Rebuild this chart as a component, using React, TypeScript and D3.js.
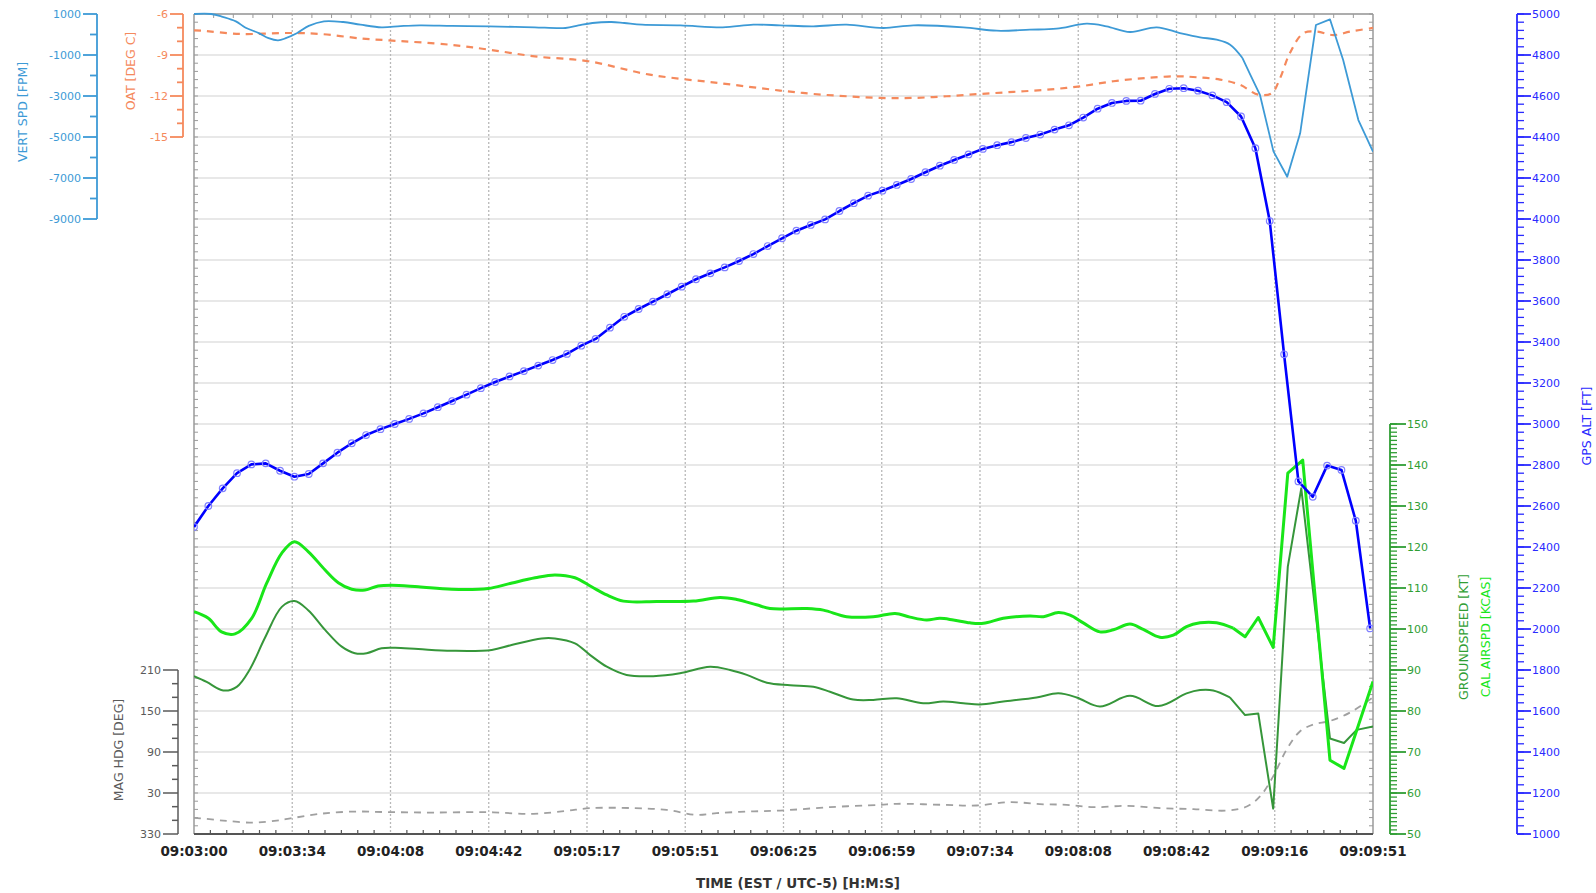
import React from 'react';
import * as d3 from 'd3';

// ---------- DATA ----------
// time in seconds after 09:03:00
const timeDomain: [number, number] = [0, 411];
const timeTickLabels = [
  '09:03:00', '09:03:34', '09:04:08', '09:04:42', '09:05:17', '09:05:51', '09:06:25',
  '09:06:59', '09:07:34', '09:08:08', '09:08:42', '09:09:16', '09:09:51',
];

// VERT SPD [FPM]
const vertSpd: [number, number][] = [
  [0, 1000], [6, 1000], [10, 860], [14.6, 640], [18, 330], [22.6, 70], [26, -180], [29.3, -283],
  [32, -180], [36, 73], [40, 420], [45.3, 644], [52, 610], [58, 480], [65.4, 350], [72, 410],
  [78.7, 449], [90, 420], [102.8, 400], [112, 370], [118.8, 350], [129.5, 317], [134, 440],
  [138.9, 561], [145.5, 610], [150, 560], [156.2, 478], [169.6, 449], [184.3, 350], [195, 478],
  [204.3, 449], [215.9, 400], [227.5, 478], [240.3, 317], [250.8, 449], [268.2, 350], [279.8, 185],
  [291.4, 234], [300.7, 283], [311.2, 527], [318.1, 400], [326.3, 122], [335.6, 350], [343.7, 73],
  [350.7, -137], [356.5, -254], [361.2, -498], [365.5, -1150], [368, -1900], [371.6, -2950],
  [376.3, -5700], [381.1, -6940], [385.6, -4820], [391.1, 463], [396, 741], [400.6, -1244],
  [405.9, -4171], [411, -5717],
];

// OAT [DEG C]
const oat: [number, number][] = [
  [0, -7.2], [2.6, -7.22], [16, -7.46], [33.3, -7.39], [44, -7.46], [58.7, -7.8], [68, -7.93],
  [89.4, -8.25], [102.8, -8.61], [118.8, -9.1], [137.5, -9.46], [158.9, -10.44], [182.9, -11.05],
  [204.3, -11.6], [215.9, -11.85], [227.5, -12.02], [239.1, -12.14], [250.8, -12.14],
  [262.4, -12.02], [274, -11.85], [285.6, -11.7], [297.2, -11.54], [308.9, -11.29], [320.5, -10.92],
  [332.1, -10.68], [342.6, -10.56], [349.5, -10.63], [357.7, -10.8], [364.6, -11.18], [371, -11.9],
  [375.7, -11.8], [378.6, -10.7], [382, -8.87], [386.7, -7.41], [391.4, -7.29], [397.2, -7.54],
  [403, -7.29], [411, -7.02],
];

// GPS ALT [FT], one sample every 5 s from 09:03:00
const gpsSampleStep = 5;
const gpsAlt = [
  2498, 2600, 2686, 2760, 2803, 2808, 2772, 2743, 2756, 2808, 2860, 2906, 2946, 2975, 3000, 3025,
  3052, 3082, 3112, 3143, 3175, 3205, 3232, 3258, 3285, 3312, 3342, 3382, 3415, 3470, 3523, 3561,
  3597, 3633, 3670, 3706, 3735, 3764, 3795, 3829, 3868, 3906, 3943, 3971, 3998, 4039, 4077, 4114,
  4138, 4166, 4195, 4228, 4260, 4288, 4315, 4342, 4360, 4375, 4395, 4412, 4436, 4457, 4495, 4538,
  4566, 4576, 4577, 4610, 4635, 4638, 4626, 4603, 4570, 4500, 4345, 3990, 3340, 2720, 2645, 2797,
  2776, 2528, 2003,
];

// CAL AIRSPD [KCAS]
const calAirspd: [number, number][] = [
  [0, 104.2], [5, 102.6], [9.6, 99.3], [14.3, 98.8], [20.1, 102.6], [25.3, 111.1], [30.6, 118.5],
  [35, 121.3], [39.8, 118.9], [45.7, 114.4], [50.3, 111.3], [55, 109.7], [59.6, 109.5], [64.2, 110.5],
  [68.9, 110.7], [78.2, 110.3], [89.8, 109.7], [102.6, 109.9], [109.6, 111], [118.9, 112.5],
  [125.8, 113.2], [132.8, 112.5], [138.6, 110.3], [143.9, 108.3], [149.7, 106.8], [161.3, 106.7],
  [174.1, 106.8], [183.4, 107.7], [189.2, 107.2], [196.1, 105.9], [200.8, 105], [213.6, 105],
  [219.4, 104.6], [227.5, 103], [236.8, 103], [244.4, 103.8], [249.6, 102.9], [255.4, 102.2],
  [260, 102.6], [264.7, 102.2], [270.5, 101.5], [275.2, 101.4], [282.1, 102.6], [291.4, 103.2],
  [296.1, 103], [301.3, 104], [305.4, 103.4], [310, 101.5], [315.8, 99.3], [320.5, 99.8],
  [326.3, 101.2], [330.9, 99.9], [336.7, 98], [341.4, 98.5], [346, 100.6], [350.7, 101.5],
  [356.5, 101.5], [362.3, 100.2], [366.4, 98.1], [371, 102.8], [376.2, 95.5], [381.3, 138],
  [386.5, 141.2], [396, 68], [400.9, 66], [411, 87.2],
];

// GROUNDSPEED [KT]
const groundspeed: [number, number][] = [
  [0, 88.5], [4.4, 87.1], [10.2, 85], [14.9, 85.9], [19.5, 90.2], [24.7, 97.8], [30.6, 105.4],
  [35, 106.8], [39.8, 104.6], [45.7, 99.8], [51.5, 95.7], [56.1, 94.1], [60.2, 94.1], [65.4, 95.3],
  [70.1, 95.4], [78.2, 95.1], [89.8, 94.7], [103.8, 94.9], [110.7, 96.1], [121.2, 97.7],
  [125.8, 97.7], [132.8, 96.5], [138, 93.7], [143.9, 90.8], [150.8, 88.8], [160.1, 88.5],
  [169.4, 89.2], [179.9, 90.8], [186.9, 90], [192.7, 88.8], [199.7, 86.9], [207.8, 86.3],
  [215.9, 85.9], [221.7, 84.7], [229.8, 82.8], [236.8, 82.7], [245, 83.1], [254.2, 81.9],
  [261.2, 82.3], [268.2, 81.9], [274, 81.6], [282.1, 82.3], [293.7, 83.3], [301.3, 84.3],
  [307.7, 83.3], [315.8, 81.1], [326.3, 83.7], [336.2, 81.2], [346, 84.3], [350.7, 85.1],
  [355.3, 85], [361.1, 83.3], [366.4, 79], [371, 79.4], [376.2, 56.2], [381.3, 115.2],
  [386, 134.3], [396, 73.3], [400.9, 72.2], [405.3, 75.4], [411, 76.2],
];

// MAG HDG [DEG]
const magHdg: [number, number][] = [
  [0, 353.5], [2.1, 353], [10.2, 349.6], [20.7, 346.6], [28.8, 349.6], [34, 353.1], [43.9, 359.5],
  [55.5, 2.8], [68.3, 2], [83.4, 1.4], [102, 2], [118.3, 359.5], [129.9, 3.9], [138, 7.8],
  [153.1, 7.9], [164.8, 5.3], [175.2, 358], [182.2, 0.5], [192.7, 2.8], [204.3, 4.3], [221.7, 9.3],
  [239.1, 12.7], [245, 14.2], [261.2, 12.7], [272.8, 11.7], [284.5, 16.7], [294.9, 13.7],
  [304.2, 12.7], [313.6, 9.3], [325.2, 11.2], [336.8, 7.9], [348.4, 6.4], [360, 4.3], [367, 10.2],
  [371.6, 24.9], [376.2, 54.4], [380.9, 93.7], [385.5, 120], [390.3, 130.5], [396, 135.4],
  [403, 147.8], [411, 170],
];

// axis ticks
const vsMajorTicks = [1000, -1000, -3000, -5000, -7000, -9000];
const vsMinorTicks = [0, -2000, -4000, -6000, -8000];
const oatMajorTicks = [-6, -9, -12, -15];
const oatMinorTicks = [-7, -8, -10, -11, -13, -14];
const hdgMajorTicks = [210, 150, 90, 30, -30];
const hdgTickLabels = ['210', '150', '90', '30', '330'];
const hdgMinorTicks = [190, 170, 130, 110, 70, 50, 10, -10];
const spdMajorTicks = [150, 140, 130, 120, 110, 100, 90, 80, 70, 60, 50];
const altMajorTicks = [5000, 4800, 4600, 4400, 4200, 4000, 3800, 3600, 3400, 3200, 3000, 2800, 2600,
  2400, 2200, 2000, 1800, 1600, 1400, 1200, 1000];

// ---------- STYLE ----------
const C = {
  vs: '#3d9ad6',
  oat: '#f5895c',
  gps: '#0000ff',
  gpsAxis: '#2a2aff',
  gpsMarker: '#8080ff',
  gs: '#36963a',
  gsAxis: '#2f9e34',
  cas: '#19e619',
  hdg: '#a0a0a0',
  hdgAxis: '#5a5a5a',
  grid: '#e0e0e0',
  vgrid: '#b8b8b8',
  frame: '#9a9a9a',
};
const FONT = 'DejaVu Sans, Verdana, sans-serif';

const L = 194, R = 1373, T = 14, B = 834;

function hdgWrap(h: number) {
  return h > 180 ? h - 360 : h;
}

export default function App() {
  const x = d3.scaleLinear().domain(timeDomain).range([L, R]);
  const yVs = d3.scaleLinear().domain([1000, -9000]).range([T, 219]);
  const yOat = d3.scaleLinear().domain([-6, -15]).range([T, 137]);
  const yAlt = d3.scaleLinear().domain([5000, 1000]).range([T, B]);
  const ySpd = d3.scaleLinear().domain([150, 50]).range([424, B]);
  const yHdg = d3.scaleLinear().domain([210, -30]).range([670, B]);

  const smooth = d3.curveCatmullRom.alpha(0.5);
  const mk = (ys: d3.ScaleLinear<number, number>, curve: any = smooth) =>
    d3.line<[number, number]>().x((d) => x(d[0])).y((d) => ys(d[1])).curve(curve);

  // smooth in the steady part, straight segments in the final manoeuvre
  const split = (ys: d3.ScaleLinear<number, number>, data: [number, number][], at: number) =>
    (mk(ys)(data.filter((d) => d[0] <= at)) || '') + (mk(ys, d3.curveLinear)(data.filter((d) => d[0] >= at)) || '');

  const gpsPts: [number, number][] = gpsAlt.map((a, i) => [Math.min(i * gpsSampleStep, timeDomain[1]), a]);
  const hdgPts: [number, number][] = magHdg.map((d) => [d[0], hdgWrap(d[1])]);

  const tickTimes = timeTickLabels.map((_, i) => timeDomain[0] + (i * (timeDomain[1] - timeDomain[0])) / (timeTickLabels.length - 1));
  const bottomMinor: number[] = [];
  const topMinor: number[] = [];
  for (let i = 0; i < tickTimes.length - 1; i++) {
    const a = tickTimes[i], b = tickTimes[i + 1];
    for (let k = 1; k < 6; k++) bottomMinor.push(a + ((b - a) * k) / 6);
    for (let k = 1; k < 5; k++) topMinor.push(a + ((b - a) * k) / 5);
  }
  const altMinor = d3.range(1000, 5001, 40);
  const spdMinor = d3.range(50, 151, 1);

  const axisText = { fontFamily: FONT, fontSize: 11 } as const;
  const titleText = { fontFamily: FONT, fontSize: 12.5 } as const;

  return (
    <svg width={1596} height={893} style={{ position: 'absolute', left: 0, top: 0, background: '#fff' }}>
      <defs>
        <clipPath id="plotClip">
          <rect x={L} y={T - 2} width={R - L} height={B - T + 2} />
        </clipPath>
      </defs>
      <rect x={0} y={0} width={1596} height={893} fill="#fff" />

      {/* horizontal grid */}
      {altMajorTicks.map((v) => (
        <line key={'hg' + v} x1={L} x2={R} y1={yAlt(v)} y2={yAlt(v)} stroke={C.grid} strokeWidth={1.6} />
      ))}
      {/* vertical grid */}
      {tickTimes.slice(1, -1).map((t, i) => (
        <line key={'vg' + i} x1={x(t)} x2={x(t)} y1={T} y2={B} stroke={C.vgrid} strokeWidth={1.3} strokeDasharray="2,2" />
      ))}

      {/* inner minor ticks on frame */}
      {altMinor.map((v) => (
        <g key={'fm' + v}>
          <line x1={L} x2={L + 4} y1={yAlt(v)} y2={yAlt(v)} stroke={C.frame} strokeWidth={1} />
          <line x1={R - 4} x2={R} y1={yAlt(v)} y2={yAlt(v)} stroke={C.frame} strokeWidth={1} />
        </g>
      ))}
      {topMinor.map((t, i) => (
        <line key={'tm' + i} x1={x(t)} x2={x(t)} y1={T} y2={T + 4} stroke={C.frame} strokeWidth={1} />
      ))}
      {bottomMinor.map((t, i) => (
        <line key={'bm' + i} x1={x(t)} x2={x(t)} y1={B - 4} y2={B} stroke="#555" strokeWidth={1.2} />
      ))}

      {/* frame */}
      <line x1={L} x2={R} y1={T} y2={T} stroke={C.frame} strokeWidth={1.5} />
      <line x1={L} x2={L} y1={T} y2={B} stroke={C.frame} strokeWidth={1.5} />
      <line x1={R} x2={R} y1={T} y2={B} stroke={C.frame} strokeWidth={1.5} />

      {/* series */}
      <g clipPath="url(#plotClip)" fill="none">
        <path d={mk(yHdg)(hdgPts) || ''} stroke={C.hdg} strokeWidth={1.8} strokeDasharray="7,6" />
        <path d={split(ySpd, groundspeed, 361.1)} stroke={C.gs} strokeWidth={2} strokeLinejoin="round" />
        <path d={split(ySpd, calAirspd, 362.3)} stroke={C.cas} strokeWidth={3} strokeLinejoin="round" />
        <path d={mk(yOat)(oat) || ''} stroke={C.oat} strokeWidth={2.2} strokeDasharray="7,6" />
        <path d={split(yVs, vertSpd, 365.5)} stroke={C.vs} strokeWidth={1.8} strokeLinejoin="round" />
        <path d={mk(yAlt, d3.curveLinear)(gpsPts) || ''} stroke={C.gps} strokeWidth={2.6} strokeLinejoin="round" />
        {gpsPts.map((d, i) => (
          <circle key={'gm' + i} cx={x(d[0])} cy={yAlt(d[1])} r={3.3} fill="none" stroke={C.gpsMarker} strokeWidth={1.2} />
        ))}
      </g>

      {/* bottom axis line */}
      <line x1={L} x2={R} y1={B} y2={B} stroke="#555" strokeWidth={2.2} />

      {/* x tick labels */}
      {tickTimes.map((t, i) => (
        <text key={'xt' + i} x={x(t)} y={851} textAnchor="middle" dominantBaseline="central"
          fontFamily={FONT} fontSize={13.5} fontWeight="bold" fill="#222">
          {timeTickLabels[i]}
        </text>
      ))}
      <text x={798} y={883} textAnchor="middle" dominantBaseline="central" fontFamily={FONT} fontSize={13.5}
        fontWeight="bold" fill="#333">
        TIME (EST / UTC-5) [H:M:S]
      </text>

      {/* VERT SPD axis */}
      <g stroke={C.vs} strokeWidth={1.8}>
        <line x1={97} x2={97} y1={yVs(1000)} y2={yVs(-9000)} />
        {vsMajorTicks.map((v) => <line key={'vsM' + v} x1={83} x2={97} y1={yVs(v)} y2={yVs(v)} />)}
        {vsMinorTicks.map((v) => <line key={'vsm' + v} x1={90} x2={97} y1={yVs(v)} y2={yVs(v)} />)}
      </g>
      {vsMajorTicks.map((v) => (
        <text key={'vsl' + v} x={81} y={yVs(v)} textAnchor="end" dominantBaseline="central" fill={C.vs} {...axisText}>
          {String(v)}
        </text>
      ))}
      <text transform={`translate(22,112) rotate(-90)`} textAnchor="middle" dominantBaseline="central" fill={C.vs} {...titleText}>
        VERT SPD [FPM]
      </text>

      {/* OAT axis */}
      <g stroke={C.oat} strokeWidth={1.8}>
        <line x1={183} x2={183} y1={yOat(-6)} y2={yOat(-15)} />
        {oatMajorTicks.map((v) => <line key={'oM' + v} x1={170} x2={183} y1={yOat(v)} y2={yOat(v)} />)}
        {oatMinorTicks.map((v) => <line key={'om' + v} x1={177} x2={183} y1={yOat(v)} y2={yOat(v)} />)}
      </g>
      {oatMajorTicks.map((v) => (
        <text key={'ol' + v} x={168} y={yOat(v)} textAnchor="end" dominantBaseline="central" fill={C.oat} {...axisText}>
          {String(v)}
        </text>
      ))}
      <text transform={`translate(130,71) rotate(-90)`} textAnchor="middle" dominantBaseline="central" fill={C.oat} {...titleText}>
        OAT [DEG C]
      </text>

      {/* MAG HDG axis */}
      <g stroke={C.hdgAxis} strokeWidth={1.5}>
        <line x1={178} x2={178} y1={yHdg(210)} y2={yHdg(-30)} />
        {hdgMajorTicks.map((v) => <line key={'hM' + v} x1={163} x2={178} y1={yHdg(v)} y2={yHdg(v)} />)}
        {hdgMinorTicks.map((v) => <line key={'hm' + v} x1={172} x2={178} y1={yHdg(v)} y2={yHdg(v)} />)}
      </g>
      {hdgMajorTicks.map((v, i) => (
        <text key={'hl' + v} x={161} y={yHdg(v)} textAnchor="end" dominantBaseline="central" fill={C.hdgAxis} {...axisText}>
          {hdgTickLabels[i]}
        </text>
      ))}
      <text transform={`translate(118,750) rotate(-90)`} textAnchor="middle" dominantBaseline="central" fill={C.hdgAxis} {...titleText}>
        MAG HDG [DEG]
      </text>

      {/* GROUNDSPEED / CAL AIRSPD axis */}
      <g stroke={C.gsAxis} strokeWidth={1.8}>
        <line x1={1390} x2={1390} y1={ySpd(150)} y2={ySpd(50)} />
        {spdMinor.map((v) => <line key={'sm' + v} x1={1390} x2={1397} y1={ySpd(v)} y2={ySpd(v)} strokeWidth={1.3} />)}
        {spdMajorTicks.map((v) => <line key={'sM' + v} x1={1390} x2={1406} y1={ySpd(v)} y2={ySpd(v)} />)}
      </g>
      {spdMajorTicks.map((v) => (
        <text key={'sl' + v} x={1407} y={ySpd(v)} textAnchor="start" dominantBaseline="central" fill={C.gsAxis} {...axisText}>
          {String(v)}
        </text>
      ))}
      <text transform={`translate(1463,637) rotate(-90)`} textAnchor="middle" dominantBaseline="central" fill={C.gsAxis} {...titleText}>
        GROUNDSPEED [KT]
      </text>
      <text transform={`translate(1485,637) rotate(-90)`} textAnchor="middle" dominantBaseline="central" fill={C.cas} {...titleText}>
        CAL AIRSPD [KCAS]
      </text>

      {/* GPS ALT axis */}
      <g stroke={C.gpsAxis} strokeWidth={1.8}>
        <line x1={1517} x2={1517} y1={yAlt(5000)} y2={yAlt(1000)} />
        {altMinor.map((v) => <line key={'am' + v} x1={1517} x2={1524} y1={yAlt(v)} y2={yAlt(v)} strokeWidth={1.3} />)}
        {altMajorTicks.map((v) => <line key={'aM' + v} x1={1517} x2={1531} y1={yAlt(v)} y2={yAlt(v)} />)}
      </g>
      {altMajorTicks.map((v) => (
        <text key={'al' + v} x={1532} y={yAlt(v)} textAnchor="start" dominantBaseline="central" fill={C.gpsAxis} {...axisText}>
          {String(v)}
        </text>
      ))}
      <text transform={`translate(1586,426) rotate(-90)`} textAnchor="middle" dominantBaseline="central" fill={C.gpsAxis} {...titleText}>
        GPS ALT [FT]
      </text>
    </svg>
  );
}
